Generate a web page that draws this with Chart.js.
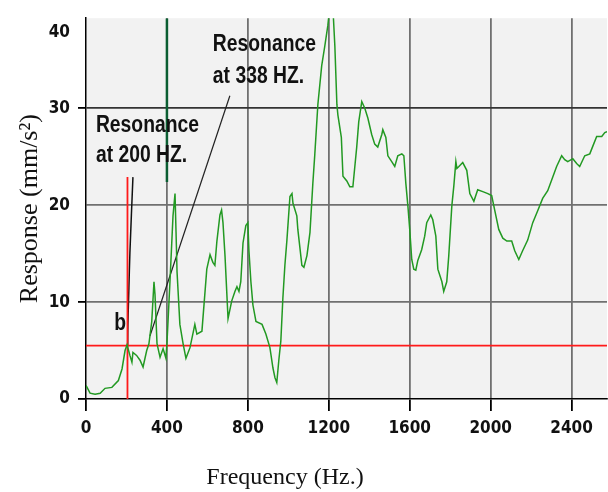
<!DOCTYPE html>
<html>
<head>
<meta charset="utf-8">
<script src="https://cdn.jsdelivr.net/npm/chart.js@4/dist/chart.umd.min.js"></script>
<style>
  html, body { margin:0; padding:0; background:#fff; }
  #c { display:block; }
</style>
</head>
<body>
<canvas id="c" width="608" height="492"></canvas>
<script>
const FREQ = [0,20,45,70,94,128,160,178,193,203,217,227,232,250,267,282,300,311,325,336,341,351,366,381,395,400,
  415,430,440,445,450,464,480,494,514,538,548,573,597,613,627,637,647,662,670,677,687,702,720,736,746,756,765,776,
  790,800,805,815,825,840,870,889,909,924,934,943,953,963,973,983,993,1008,1018,1023,1042,1047,1067,1077,1092,1107,
  1121,1131,1146,1165,1180,1195,1205,1220,1230,1240,1245,1262,1270,1289,1304,1319,1338,1348,1363,1378,1393,1412,
  1427,1442,1462,1467,1482,1492,1511,1526,1541,1561,1571,1581,1591,1600,1610,1620,1630,1640,1659,1674,1684,1704,
  1714,1729,1739,1759,1768,1783,1793,1808,1818,1828,1833,1843,1862,1882,1897,1917,1936,1961,1986,2005,2020,2040,
  2060,2080,2104,2119,2139,2158,2183,2208,2232,2257,2282,2307,2326,2351,2366,2381,2406,2425,2440,2465,2490,2505,
  2524,2549,2564,2575];
const RESP = [1.4,0.6,0.5,0.6,1.1,1.2,1.9,3.1,5.0,5.6,4.5,3.8,4.8,4.5,4.0,3.3,5.0,5.7,8.0,12.1,10.8,5.7,4.3,5.2,4.2,5.7,
  12.1,18.9,21.2,17.2,13.1,7.7,5.7,4.2,5.3,7.7,6.7,7.0,13.4,14.9,14.1,13.8,16.3,19.0,19.5,18.2,14.8,8.3,10.1,11.1,11.6,11.1,12.1,16.1,
  17.9,18.2,15.4,12.1,9.7,8.0,7.7,6.7,5.3,3.2,2.2,1.7,4.0,6.0,10.4,13.8,16.4,20.9,21.2,20.2,18.9,17.5,13.8,13.6,14.8,17.2,
  22.2,25.3,30.4,34.4,36.4,38.5,40.5,40.5,36.4,30.4,29.3,27.0,23.0,22.5,21.9,21.9,26.0,28.6,30.7,30.0,29.0,27.3,
  26.3,26.0,27.3,27.8,27.0,25.1,24.5,24.0,25.1,25.3,25.1,22.2,19.9,17.5,14.4,13.4,13.3,14.3,15.4,16.8,18.2,19.0,
  18.5,16.8,13.4,12.1,11.1,12.1,14.8,19.9,22.0,24.5,23.8,24.0,24.4,23.6,21.2,20.4,21.6,21.4,21.2,21.0,19.5,17.5,
  16.6,16.3,16.3,15.3,14.4,15.3,16.4,18.2,19.4,20.7,21.5,22.9,24.0,25.1,24.7,24.5,24.8,24.3,24.0,25.1,25.3,26.1,
  27.1,27.1,27.5,27.6];

const X_MAX = 2575;
const Y_MAX = 39.3;
const X_TICKS = [0,400,800,1200,1600,2000,2400];
const Y_TICKS = [0,10,20,30,37.8];
const Y_TICK_LABELS = ['0','10','20','30','40'];

// reference lines (x, y in data units)
const RED_H_X = [0, X_MAX], RED_H_Y = [5.5, 5.5];
const RED_V_X = [205, 205], RED_V_Y = [0, 22.9];
const PTR_B_X = [232, 217, 212, 207, 206], PTR_B_Y = [22.9, 15.1, 11.4, 7.7, 5.5];
const MARK_400_X = [400, 400], MARK_400_Y = [22.4, Y_MAX];
const ARROW_X = [711, 316], ARROW_Y = [31.3, 6.5];

const NOTES = [
  { lines:['Resonance','at 338 HZ.'], x:627, y:[35.9, 32.6] },
  { lines:['Resonance','at 200 HZ.'], x:49,  y:[27.6, 24.5] },
  { lines:['b'], x:140, y:[7.1] }
];

const pts = (xs, ys) => xs.map((x, i) => ({ x, y: ys[i] }));
const COND = "'DejaVu Sans Condensed','DejaVu Sans',sans-serif";

const plotBg = {
  id:'plotBg',
  beforeDraw(chart) {
    const a = chart.chartArea, ctx = chart.ctx;
    ctx.save();
    ctx.fillStyle = '#f2f2f2';
    ctx.fillRect(a.left, a.top, a.right - a.left, a.bottom - a.top);
    ctx.restore();
  }
};

const notes = {
  id:'notes',
  afterDraw(chart) {
    const ctx = chart.ctx, xs = chart.scales.x, ys = chart.scales.y;
    const sx = 0.84;
    ctx.save();
    ctx.fillStyle = '#111';
    ctx.font = "bold 23px 'Liberation Sans',Arial,sans-serif";
    ctx.textBaseline = 'alphabetic';
    ctx.scale(sx, 1);
    NOTES.forEach(n => {
      n.lines.forEach((t, i) => ctx.fillText(t, xs.getPixelForValue(n.x) / sx, ys.getPixelForValue(n.y[i])));
    });
    ctx.restore();
    // x axis title
    ctx.save();
    ctx.fillStyle = '#111';
    ctx.font = "24px 'Liberation Serif','Times New Roman',serif";
    ctx.textAlign = 'center';
    ctx.textBaseline = 'middle';
    ctx.fillText('Frequency (Hz.)', 285, 478);
    ctx.restore();
  }
};

new Chart(document.getElementById('c'), {
  type:'line',
  data:{ datasets:[
    { data:pts(FREQ, RESP), borderColor:'#229922', borderWidth:1.5, pointRadius:0, tension:0 },
    { data:pts(RED_H_X, RED_H_Y), borderColor:'#ff1a1a', borderWidth:1.8, pointRadius:0 },
    { data:pts(RED_V_X, RED_V_Y), borderColor:'#ff1a1a', borderWidth:1.8, pointRadius:0 },
    { data:pts(PTR_B_X, PTR_B_Y), borderColor:'#111', borderWidth:1.5, pointRadius:0, tension:0.3 },
    { data:pts(MARK_400_X, MARK_400_Y), borderColor:'#0b5e32', borderWidth:2.5, pointRadius:0 },
    { data:pts(ARROW_X, ARROW_Y), borderColor:'#222', borderWidth:1.2, pointRadius:0 }
  ]},
  options:{
    responsive:false, animation:false, devicePixelRatio:1,
    layout:{ padding:{ top:12, right:1, left:0, bottom:0 } },
    plugins:{ legend:{display:false}, tooltip:{enabled:false} },
    scales:{
      x:{ type:'linear', min:0, max:X_MAX,
        afterBuildTicks:s => { s.ticks = X_TICKS.map(v => ({ value:v })); },
        afterFit:s => { s.height = 93; },
        border:{ color:'#000', width:1.5 },
        grid:{ color:c => c.tick && c.tick.value === 0 ? 'rgba(0,0,0,0)' : '#707070', lineWidth:1.8, tickColor:'#000', tickLength:12 },
        ticks:{ color:'#111', padding:7, maxRotation:0, callback:v => String(v),
          font:{ family:COND, size:17, weight:'bold' } }
      },
      y:{ type:'linear', min:0, max:Y_MAX,
        afterBuildTicks:s => { s.ticks = Y_TICKS.map(v => ({ value:v })); },
        afterFit:s => { s.width = 86; },
        border:{ color:'#000', width:1.5 },
        grid:{
          color:c => { const v = c.tick && c.tick.value; return (v === 0 || v === 37.8) ? 'rgba(0,0,0,0)' : (v === 30 ? '#333' : '#707070'); },
          tickColor:c => { const v = c.tick && c.tick.value; return (v === 20 || v === 37.8) ? 'rgba(0,0,0,0)' : '#000'; },
          lineWidth:1.8, tickLength:8 },
        ticks:{ color:'#111', padding:8,
          callback:(v, i) => Y_TICK_LABELS[i],
          font:{ family:COND, size:17, weight:'bold' } },
        title:{ display:true, text:'Response (mm/s\u00b2)', color:'#111', padding:{ top:15, bottom:0 },
          font:{ family:"'Liberation Serif','Times New Roman',serif", size:26 } }
      }
    }
  },
  plugins:[plotBg, notes]
});
</script>
</body>
</html>
